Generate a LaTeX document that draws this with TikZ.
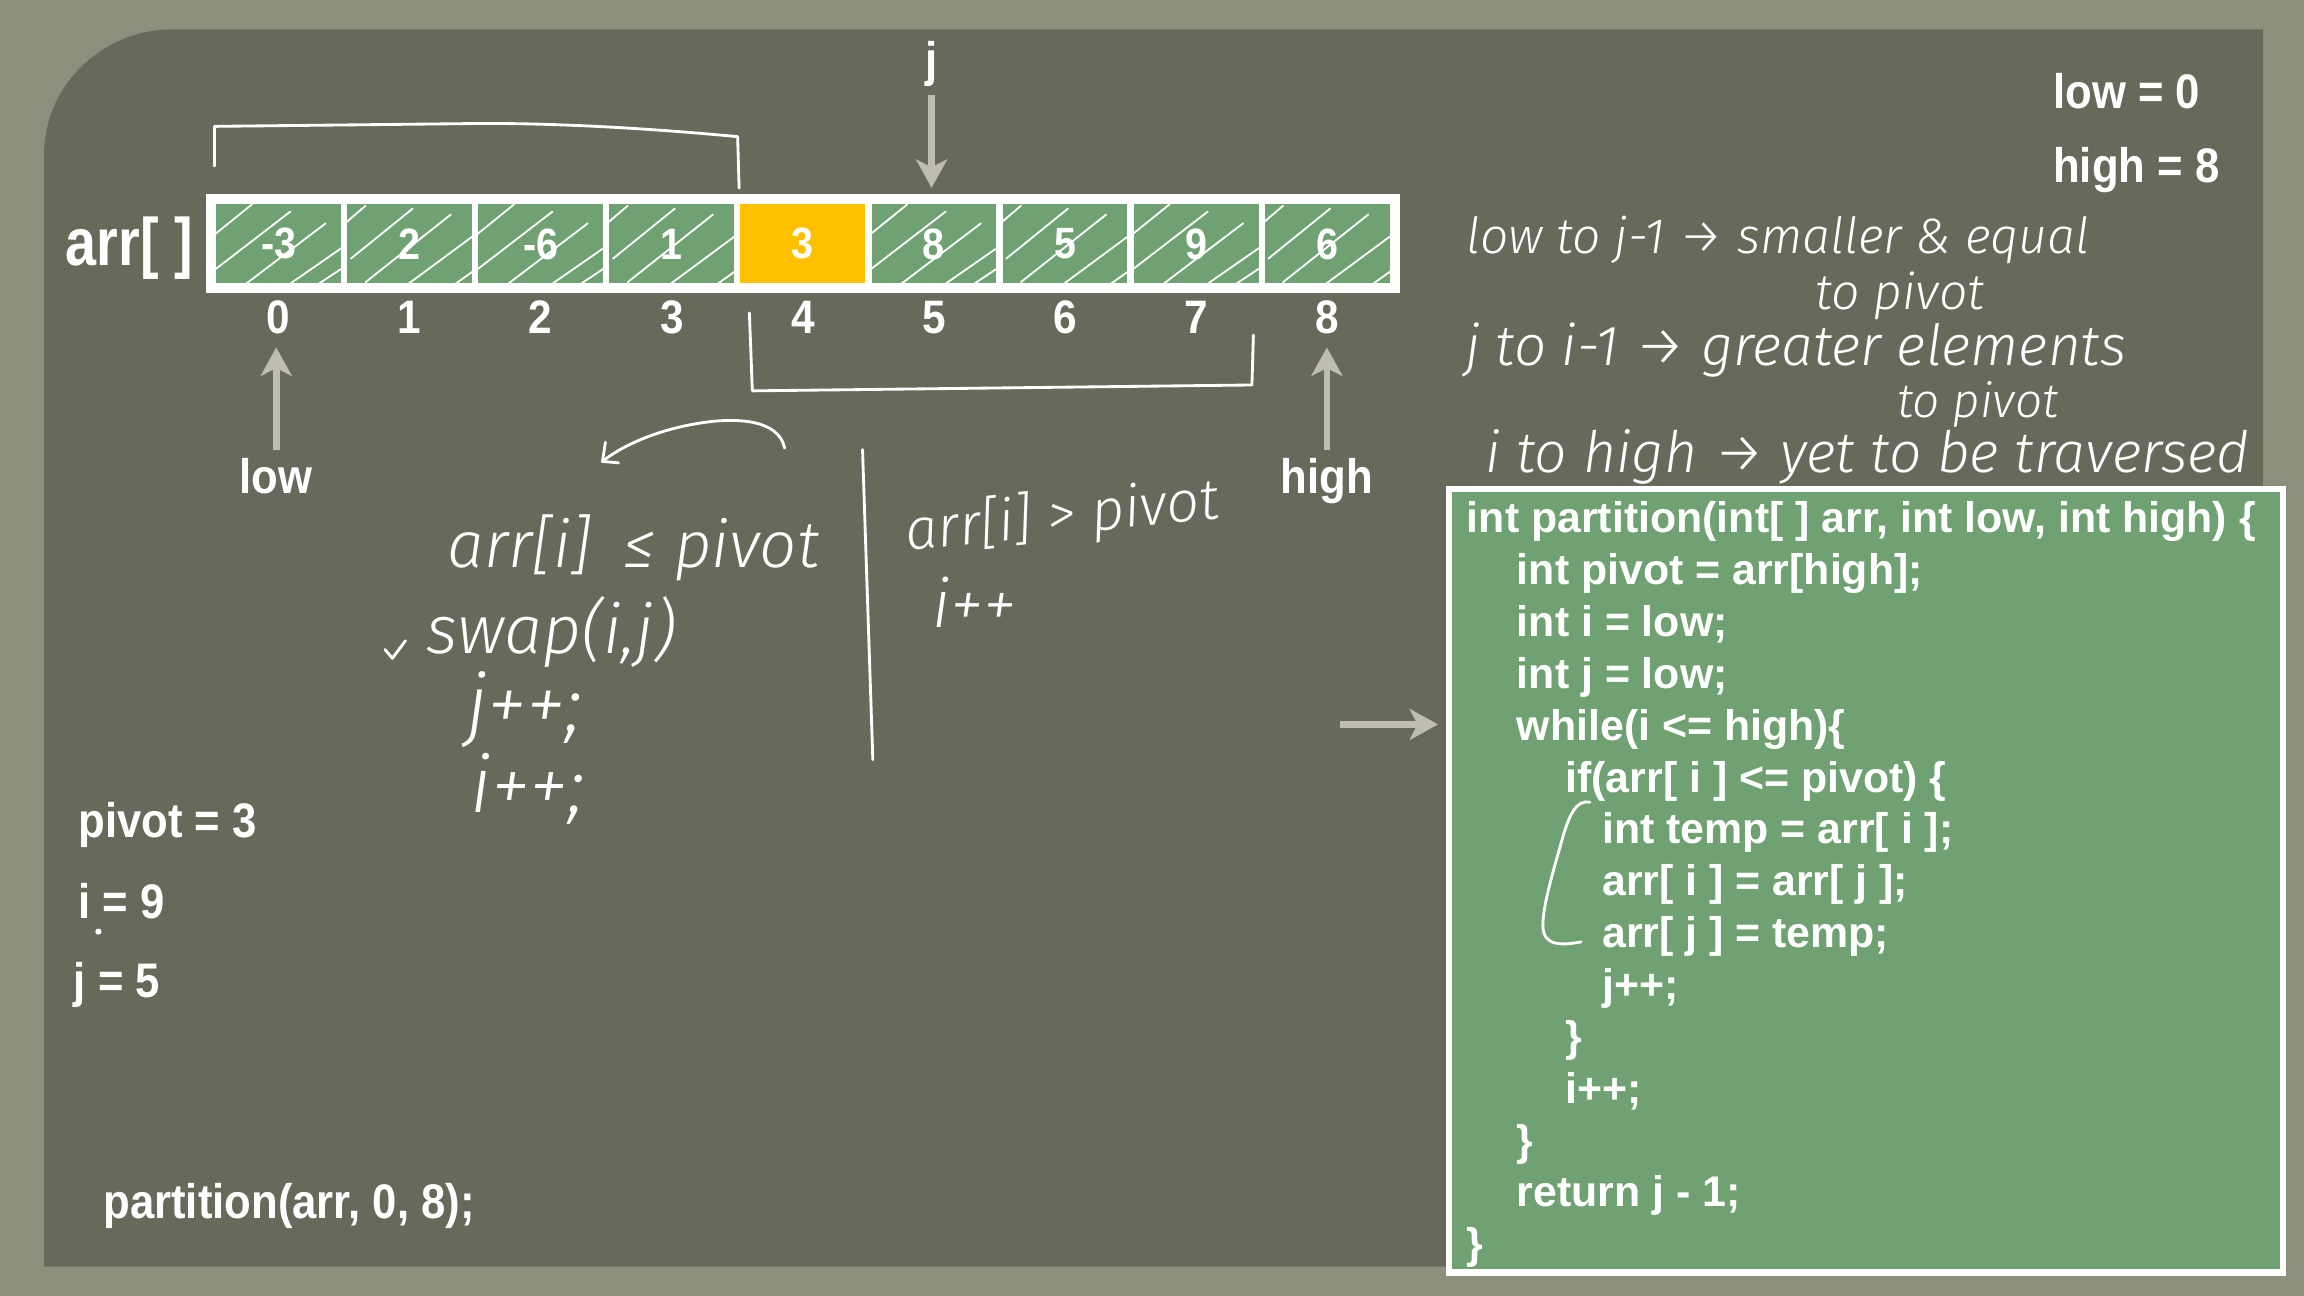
\documentclass[tikz,border=0pt]{standalone}
\usepackage{fontspec}
\usepackage{graphicx}
\usetikzlibrary{arrows.meta}
\setmainfont{Liberation Sans}
\newfontfamily\hand{Fira Sans Light Italic}
\definecolor{outerbg}{HTML}{8C8F7C}
\definecolor{panelbg}{HTML}{676A5B}
\definecolor{cellgreen}{HTML}{6FA172}
\definecolor{goldcell}{HTML}{FFC000}
\definecolor{arrowgray}{HTML}{BEBDAF}
\newcommand\cnd[2][0.9]{\scalebox{#1}[1]{#2}}
\newcommand\hw[2]{\resizebox{#1}{!}{\hand #2}}
\tikzset{
  big/.style={text=white, inner sep=0pt, font=\bfseries\fontsize{18.8pt}{20pt}\selectfont},
  idx/.style={text=white, inner sep=0pt, font=\bfseries\fontsize{18.2pt}{20pt}\selectfont},
  cellbox/.style={draw=white, line width=2.4pt, fill=cellgreen, minimum width=1.784cm, minimum height=1.16cm, inner sep=0pt, text=white, font=\bfseries\fontsize{17pt}{19pt}\selectfont},
  codeline/.style={text=white, inner sep=0pt, anchor=base west, font=\bfseries\fontsize{16.6pt}{18pt}\selectfont},
  garrow/.style={draw=arrowgray, line width=2.6pt, -{Stealth[length=11pt,width=12pt,inset=3pt]}},
  chalk/.style={draw=white, line width=1.1pt, line cap=round, line join=round},
  hatch/.style={draw=white, line width=0.7pt, line cap=round},
  hnote/.style={text=white, inner sep=0pt},
}
\begin{document}
\begin{tikzpicture}[x=0.02cm,y=-0.02cm]
\useasboundingbox (0,0) rectangle (1568,882);
\fill[outerbg] (0,0) rectangle (1568,882);
\fill[panelbg] (30,862) -- (30,105) .. controls (30,58) and (70,20) .. (117,20) -- (1540,20) -- (1540,862) -- cycle;

% array cells
\foreach \k/\v in {0/-3,1/2,2/-6,3/1,5/8,6/5,7/9,8/6} {
  \node[cellbox] (c\k) at (189.6+89.2*\k,166) {\cnd{\v}};
}
\node[cellbox, fill=goldcell] (c4) at (546.4,166) {\cnd{3}};
\draw[white, line width=3pt] (c0.north west) rectangle (c8.south east);

% hatching
\foreach \k in {0,2,5,7} {
  \begin{scope}
    \clip (c\k.north west) rectangle (c\k.south east);
    \draw[hatch, shift={(c\k.center)}] (-44,-6) -- (-18,-27) (-44,18) -- (8,-22) (-22,27) -- (32,-14) (8,27) -- (44,2) (26,28) -- (44,16);
  \end{scope}
}
\foreach \k in {1,3,6,8} {
  \begin{scope}
    \clip (c\k.north west) rectangle (c\k.south east);
    \draw[hatch, shift={(c\k.center)}] (-44,-14) -- (-30,-26) (-40,10) -- (2,-24) (-30,26) -- (28,-20) (-2,28) -- (44,-6) (30,28) -- (44,18);
  \end{scope}
}

% indices
\foreach \k in {0,...,8} {
  \node[idx] (i\k) at (189.6+89.2*\k,216) {\cnd{\k}};
}

% labels
\node[text=white, inner sep=0pt, anchor=base, font=\bfseries\fontsize{26pt}{28pt}\selectfont] (arrlab) at (88,181) {\cnd[0.83]{arr[ ]}};
\node[big, anchor=base] (jlab) at (634,52) {\cnd{j}};
\node[big, anchor=base] (lowlab) at (188,336) {\cnd{low}};
\node[big, anchor=base] (highlab) at (903,336) {\cnd{high}};
\node[big, anchor=base west] (lowval) at (1397,74) {\cnd{low = 0}};
\node[big, anchor=base west] (highval) at (1397,124) {\cnd{high = 8}};
\node[big, anchor=base west] (pivotval) at (53,570) {\cnd{pivot = 3}};
\node[big, anchor=base west] (ival) at (53,625) {\cnd{i = 9}};
\node[big, anchor=base west] (jval) at (50,679) {\cnd{j = 5}};
\node[big, anchor=base west] (call) at (70,829) {\cnd{partition(arr, 0, 8);}};

% pointer arrows
\draw[garrow, shorten <=3pt, shorten >=4pt] (jlab.south) -- (jlab.south |- c5.north);
\draw[garrow, shorten <=3pt, shorten >=5pt] (lowlab.north) -- (lowlab.north |- i0.south);
\draw[garrow, shorten <=3pt, shorten >=5pt] (highlab.north) -- (highlab.north |- i8.south);

% code box
\node[draw=white, line width=2.4pt, fill=cellgreen, minimum width=11.36cm, minimum height=10.66cm, inner sep=0pt] (code) at (1270,599.5) {};
\node[codeline] (l1) at (998,362.5) {int partition(int[ ] arr, int low, int high) \{};
\node[codeline] (l2) at (1032,397.8) {int pivot = arr[high];};
\node[codeline] (l3) at (1032,433.1) {int i = low;};
\node[codeline] (l4) at (1032,468.4) {int j = low;};
\node[codeline] (l5) at (1032,503.7) {while(i <= high)\{};
\node[codeline] (l6) at (1065,539.0) {if(arr[ i ] <= pivot) \{};
\node[codeline] (l7) at (1090,574.3) {int temp = arr[ i ];};
\node[codeline] (l8) at (1090,609.6) {arr[ i ] = arr[ j ];};
\node[codeline] (l9) at (1090,644.9) {arr[ j ] = temp;};
\node[codeline] (l10) at (1090,680.2) {j++;};
\node[codeline] (l11) at (1065,715.5) {\}};
\node[codeline] (l12) at (1065,750.8) {i++;};
\node[codeline] (l13) at (1032,786.1) {\}};
\node[codeline] (l14) at (1032,821.4) {return j - 1;};
\node[codeline] (l15) at (998,856.7) {\}};

\coordinate (cstart) at (912,493);
\draw[garrow, shorten >=3pt] (cstart) -- (cstart -| code.west);

% handwritten strokes
\draw[chalk] (146,113) -- (146,86) -- (330,84) .. controls (400,84) and (470,90) .. (502,93) -- (503,128);
\draw[chalk] (510,213) -- (512,266) -- (852,262) -- (853,228);
\draw[chalk] (534,305) .. controls (530,285) and (500,284) .. (476,288) .. controls (450,292) and (425,302) .. (410,314);
\draw[chalk] (412,301) -- (410,314) -- (421,315);
\draw[chalk] (587,306) -- (594,517);
\draw[chalk] (262,442) -- (267,448) -- (276,436);
\fill[white] (67,634) circle (1.2pt);
\draw[chalk] (1082,546) .. controls (1072,544) and (1068,556) .. (1064,568) .. controls (1058,590) and (1050,615) .. (1050,630) .. controls (1050,645) and (1065,643) .. (1076,641);

% handwritten notes
\node[hnote] (h1) at (431,373) {\hw{5.06cm}{arr[i]\enspace ≤ pivot}};
\node[hnote] (h2) at (375,430) {\hw{3.4cm}{swap(i,j)}};
\node[hnote] (h3) at (357,483) {\hw{1.58cm}{j++;}};
\node[hnote] (h4) at (359,537) {\hw{1.56cm}{i++;}};
\node[hnote, rotate=6] (h5) at (723,352) {\hw{4.28cm}{arr[i] > pivot}};
\node[hnote] (h6) at (663,410) {\hw{1.14cm}{i++}};
\node[hnote] (r1) at (1210,163) {\hw{8.48cm}{low to j-1 → smaller \& equal}};
\node[hnote] (r2) at (1293,201) {\hw{2.3cm}{to pivot}};
\node[hnote] (r3) at (1222,238) {\hw{9.0cm}{j to i-1 → greater elements}};
\node[hnote] (r4) at (1346,275) {\hw{2.2cm}{to pivot}};
\node[hnote] (r5) at (1271,311) {\hw{10.4cm}{i to high → yet to be traversed}};
\end{tikzpicture}
\end{document}
